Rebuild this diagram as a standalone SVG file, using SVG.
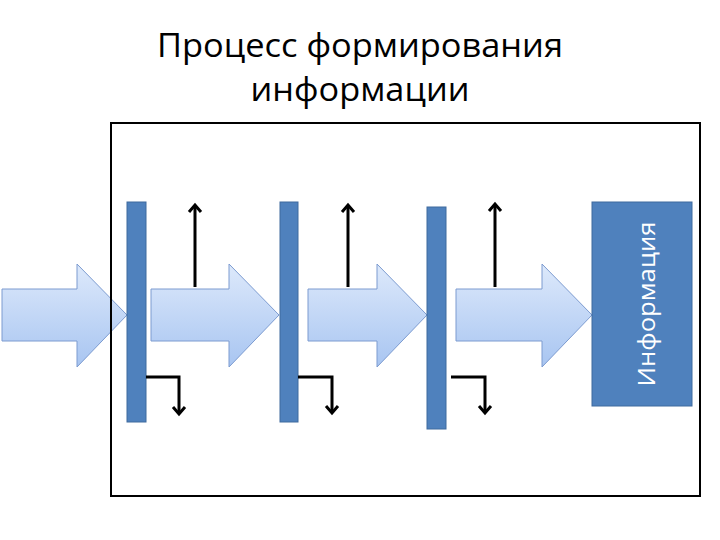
<svg xmlns="http://www.w3.org/2000/svg" width="720" height="540" viewBox="0 0 720 540">
<defs>
<linearGradient id="g" x1="0" y1="0" x2="0" y2="1">
<stop offset="0" stop-color="#dde9fb"/>
<stop offset="1" stop-color="#a8c5f1"/>
</linearGradient>
<marker id="ah" markerWidth="16" markerHeight="16" refX="9" refY="8" orient="auto" markerUnits="userSpaceOnUse">
<path d="M2,2 L9,8 L2,14" fill="none" stroke="#000" stroke-width="3" stroke-linejoin="miter"/>
</marker>
<style>
.title{font-family:"Open Sans","Liberation Sans",sans-serif;font-size:33px;fill:#000}
.flow{fill:url(#g);stroke:#7c9bd0;stroke-width:1}
.bar{fill:#4f81bd;stroke:#3f6a9e;stroke-width:1}
.ln{fill:none;stroke:#000;stroke-width:3;marker-end:url(#ah)}
.lbl{font-family:"Open Sans","Liberation Sans",sans-serif;font-size:24px;fill:#fff}
</style>
</defs>
<rect width="720" height="540" fill="#fff"/>
<g id="title">
<text class="title" x="360" y="57" text-anchor="middle" textLength="406" lengthAdjust="spacingAndGlyphs">Процесс формирования</text>
<text class="title" x="360" y="101" text-anchor="middle" textLength="219" lengthAdjust="spacingAndGlyphs">информации</text>
</g>
<g id="flow1"><path class="flow" d="M2,289 H77 V264 L127,315 L77,367 V341 H2 Z"/></g>
<g id="frame"><rect x="111" y="123" width="589" height="373" fill="none" stroke="#000" stroke-width="2"/></g>
<g id="flow2"><path class="flow" d="M151,289 H229 V264 L279,315 L229,367 V341 H151 Z"/></g>
<g id="flow3"><path class="flow" d="M308,289 H377 V264 L427,315 L377,367 V341 H308 Z"/></g>
<g id="flow4"><path class="flow" d="M456,289 H542 V264 L592,315 L542,367 V341 H456 Z"/></g>
<g id="bar1"><rect class="bar" x="127" y="202" width="19" height="220"/></g>
<g id="bar2"><rect class="bar" x="280" y="202" width="18" height="220"/></g>
<g id="bar3"><rect class="bar" x="427" y="207" width="19" height="222"/></g>
<g id="info">
<rect class="bar" x="592" y="202" width="100" height="204"/>
<text class="lbl" transform="translate(655,304) rotate(-90)" text-anchor="middle" textLength="165" lengthAdjust="spacingAndGlyphs">Информация</text>
</g>
<g id="connectors">
<path class="ln" d="M195,287 V205"/>
<path class="ln" d="M348,287 V205"/>
<path class="ln" d="M495,287 V204"/>
<path class="ln" d="M146,377 H179 V414"/>
<path class="ln" d="M298,377 H332 V413"/>
<path class="ln" d="M451,377 H485 V413"/>
</g>
</svg>
